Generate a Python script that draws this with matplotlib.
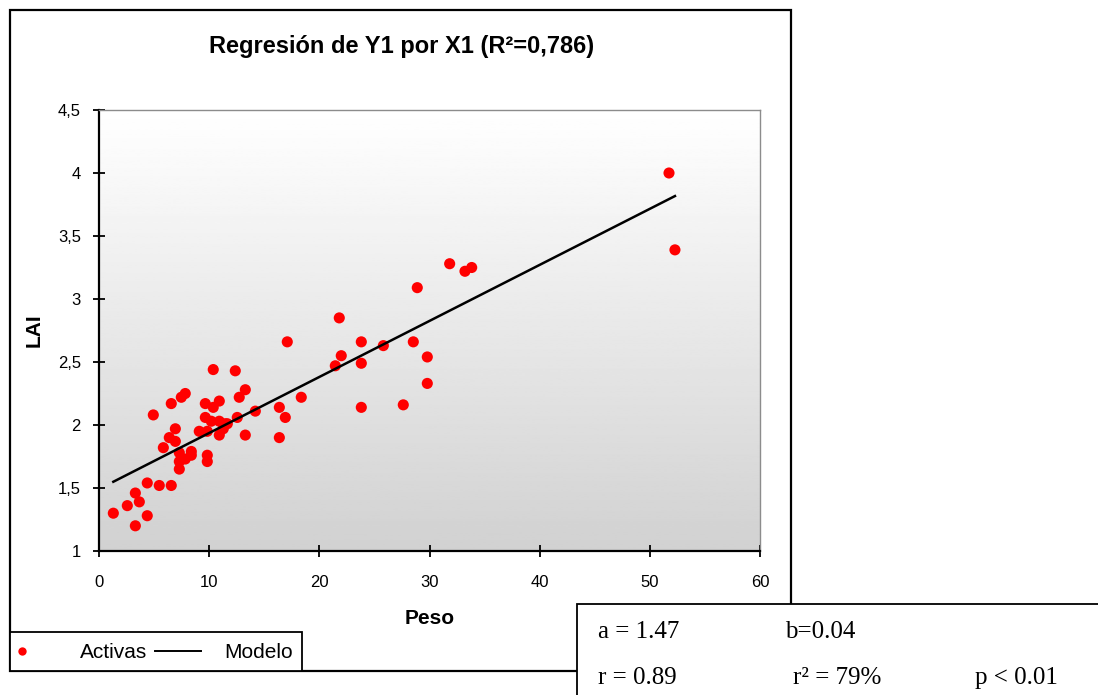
import numpy as np
import matplotlib.pyplot as plt
from matplotlib.patches import Rectangle
from matplotlib.lines import Line2D
from matplotlib.ticker import FuncFormatter

# Peso (X1) vs LAI (Y1) observations
peso = [1.30, 2.57, 3.30, 3.66, 3.30, 4.38, 4.38, 5.47, 6.56, 4.93,
        5.84, 6.38, 6.93, 6.93, 6.56, 7.47, 7.83, 7.29, 7.29, 7.29,
        7.83, 8.38, 8.38, 9.10, 9.83, 9.65, 9.65, 9.83, 9.83, 10.19,
        10.37, 10.37, 10.92, 10.92, 10.92, 11.28, 11.46, 11.65, 12.37, 12.55,
        12.73, 13.28, 13.28, 14.19, 16.37, 16.37, 16.91, 17.09, 18.36, 21.45,
        21.81, 21.99, 23.81, 23.81, 23.81, 25.81, 27.62, 28.53, 28.89, 29.80,
        29.80, 31.83, 33.22, 33.83, 51.74, 52.28]
lai = [1.30, 1.36, 1.46, 1.39, 1.20, 1.54, 1.28, 1.52, 1.52, 2.08,
       1.82, 1.90, 1.97, 1.87, 2.17, 2.22, 2.25, 1.78, 1.71, 1.65,
       1.73, 1.79, 1.76, 1.95, 1.95, 2.06, 2.17, 1.76, 1.71, 2.03,
       2.14, 2.44, 2.19, 2.03, 1.92, 1.97, 2.01, 2.01, 2.43, 2.06,
       2.22, 2.28, 1.92, 2.11, 2.14, 1.90, 2.06, 2.66, 2.22, 2.47,
       2.85, 2.55, 2.66, 2.49, 2.14, 2.63, 2.16, 2.66, 3.09, 2.54,
       2.33, 3.28, 3.22, 3.25, 4.00, 3.39]

x_ticks = [0, 10, 20, 30, 40, 50, 60]
y_ticks = [1, 1.5, 2, 2.5, 3, 3.5, 4, 4.5]

stats_row1 = [("a = 1.47", 598), ("b=0.04", 785)]
stats_row2 = [("r = 0.89", 598), ("r² = 79%", 793), ("p < 0.01", 975)]

W, H = 1098, 695
fig = plt.figure(figsize=(W / 100, H / 100), dpi=100)
fig.patch.set_facecolor("white")

def px(x, y):
    return x / W, 1 - y / H

# outer chart frame
fig.add_artist(Rectangle(px(10, 671), 781 / W, 661 / H, transform=fig.transFigure,
                         fill=False, edgecolor="black", linewidth=1.6, zorder=0))

ax = fig.add_axes([99 / W, 1 - 551 / H, 661 / W, 441 / H])

# grey gradient background
grad = np.linspace(0.82, 1.0, 256).reshape(-1, 1)
ax.imshow(grad, cmap="gray", vmin=0, vmax=1, origin="lower", aspect="auto",
          extent=[0, 1, 0, 1], transform=ax.transAxes, zorder=0)

ax.scatter(peso, lai, s=64, color="red", edgecolors="none", zorder=3)

b, a = np.polyfit(peso, lai, 1)
xs = np.array([min(peso), max(peso)])
ax.plot(xs, a + b * xs, color="black", linewidth=1.8, zorder=4)

ax.set_xlim(0, 60)
ax.set_ylim(1, 4.5)
ax.set_xticks(x_ticks)
ax.set_yticks(y_ticks)
ax.yaxis.set_major_formatter(FuncFormatter(lambda v, p: f"{v:g}".replace(".", ",")))
ax.tick_params(direction="inout", length=8, width=1.3, labelsize=12, colors="black")
ax.tick_params(axis="x", pad=13)
ax.tick_params(axis="y", pad=9)
for side in ["left", "bottom"]:
    ax.spines[side].set_linewidth(1.6)
for side in ["top", "right"]:
    ax.spines[side].set_color("#8c8c8c")
    ax.spines[side].set_linewidth(1.0)
for lbl in ax.get_xticklabels() + ax.get_yticklabels():
    lbl.set_family("Liberation Sans")

ax.set_xlabel("Peso", fontsize=15, fontweight="bold", family="Liberation Sans", labelpad=14)
ax.set_ylabel("LAI", fontsize=15, fontweight="bold", family="Liberation Sans", labelpad=10)

fig.text(*px(402, 47), "Regresión de Y1 por X1 (R²=0,786)", ha="center", va="center",
         fontsize=17, fontweight="bold", family="Liberation Sans")

# legend box
fig.add_artist(Rectangle(px(10, 671), 292 / W, 39 / H, transform=fig.transFigure,
                         facecolor="white", edgecolor="black", linewidth=1.3, zorder=5))
fig.add_artist(Line2D([22 / W], [1 - 651 / H], transform=fig.transFigure, marker="o",
                      markersize=6, color="red", markeredgewidth=0, zorder=6))
fig.text(*px(80, 652), "Activas", ha="left", va="center", fontsize=15,
         family="Liberation Sans", zorder=6)
fig.add_artist(Line2D([155 / W, 201 / W], [1 - 651 / H] * 2, transform=fig.transFigure,
                      color="black", linewidth=1.4, zorder=6))
fig.text(*px(224, 652), "Modelo", ha="left", va="center", fontsize=15,
         family="Liberation Sans", zorder=6)

# statistics box
fig.add_artist(Rectangle(px(577, 700), 530 / W, 96 / H, transform=fig.transFigure,
                         facecolor="white", edgecolor="black", linewidth=1.3, zorder=5))
for txt, x in stats_row1:
    fig.text(*px(x, 632), txt, ha="left", va="center", fontsize=18,
             family="Liberation Serif", zorder=6)
for txt, x in stats_row2:
    fig.text(*px(x, 678), txt, ha="left", va="center", fontsize=18,
             family="Liberation Serif", zorder=6)

fig.savefig("out.png", dpi=100)
